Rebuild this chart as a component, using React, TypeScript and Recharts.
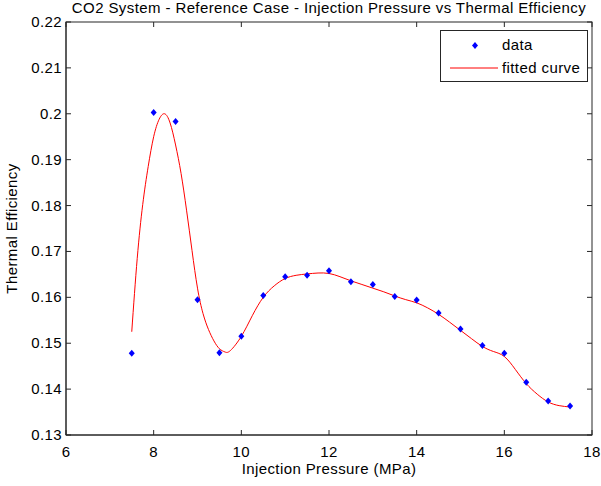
import { ComposedChart, Legend, Line, Scatter, XAxis, YAxis } from "recharts";

// measured points
const pressure = [7.5, 8, 8.5, 9, 9.5, 10, 10.5, 11, 11.5, 12, 12.5, 13, 13.5, 14, 14.5, 15, 15.5, 16, 16.5, 17, 17.5];
const efficiency = [
  0.1478, 0.2003, 0.1983, 0.1595, 0.1479, 0.1515, 0.1604, 0.1645, 0.1648, 0.1658, 0.1634,
  0.1628, 0.1602, 0.1594, 0.1566, 0.1531, 0.1495, 0.1478, 0.1415, 0.1374, 0.1363,
];

// fitted curve
const curvePressure = [
  7.5, 7.625, 7.75, 7.875, 8, 8.125, 8.25, 8.375, 8.5, 8.625, 8.75, 8.875, 9, 9.125, 9.25, 9.375,
  9.5, 9.625, 9.75, 10, 10.25, 10.5, 10.75, 11, 11.25, 11.5, 11.75, 12, 12.25, 12.5, 12.75, 13, 13.25,
  13.5, 13.75, 14, 14.25, 14.5, 14.75, 15, 15.25, 15.5, 15.75, 16, 16.25, 16.5, 16.75, 17, 17.25, 17.5,
];
const curveEfficiency = [
  0.1525, 0.1685, 0.1802, 0.1885, 0.195, 0.1988, 0.2, 0.198, 0.1932, 0.187, 0.179, 0.1702,
  0.162, 0.1565, 0.153, 0.1505, 0.1488, 0.1481, 0.1484, 0.1515, 0.156, 0.16, 0.1625, 0.1641,
  0.1648, 0.1651, 0.1653, 0.1652, 0.1645, 0.1636, 0.1628, 0.162, 0.1612, 0.1603, 0.1595, 0.1588,
  0.1577, 0.1563, 0.1546, 0.1528, 0.151, 0.1493, 0.1482, 0.1471, 0.1443, 0.1412, 0.1389, 0.1372,
  0.1364, 0.1361,
];

const xTicks = [6, 8, 10, 12, 14, 16, 18];
const yTicks = [0.13, 0.14, 0.15, 0.16, 0.17, 0.18, 0.19, 0.2, 0.21, 0.22];

const points = pressure.map((p, i) => ({ x: p, y: efficiency[i] }));
const curve = curvePressure.map((p, i) => ({ x: p, y: curveEfficiency[i] }));

const W = 601;
const H = 486;
const M = { top: 22, right: 9, bottom: 0, left: 0 };
const Y_AXIS_W = 66;
const X_AXIS_H = 51;
const PLOT_X = M.left + Y_AXIS_W;
const PLOT_Y = M.top;
const PLOT_W = W - M.left - M.right - Y_AXIS_W;
const PLOT_H = H - M.top - M.bottom - X_AXIS_H;
const X_MIN = xTicks[0];
const X_MAX = xTicks[xTicks.length - 1];
const Y_MIN = yTicks[0];
const Y_MAX = yTicks[yTicks.length - 1];

const FONT = "'Liberation Sans', Arial, sans-serif";
const INK = "#262626";
const TXT = { fontSize: 15, fontFamily: FONT, fill: "#000", letterSpacing: 0.4 };

const fmt = (v: number) => String(Number(v.toFixed(2)));

const BottomTick = ({ x, y, payload }: any) => (
  <text x={x} y={y + 22} textAnchor="middle" {...TXT}>
    {payload.value}
  </text>
);
const LeftTick = ({ x, y, payload }: any) => (
  <text x={x - 4} y={y + 5} textAnchor="end" {...TXT}>
    {fmt(payload.value)}
  </text>
);

// MATLAB-style box with inward ticks on all four sides
const Frame = () => {
  const px = (t: number) => PLOT_X + ((t - X_MIN) / (X_MAX - X_MIN)) * PLOT_W;
  const py = (t: number) => PLOT_Y + PLOT_H - ((t - Y_MIN) / (Y_MAX - Y_MIN)) * PLOT_H;
  const bottom = PLOT_Y + PLOT_H;
  const right = PLOT_X + PLOT_W;
  return (
    <svg
      width={W}
      height={H}
      style={{ position: "absolute", left: 0, top: 0, pointerEvents: "none" }}
    >
      <rect x={PLOT_X} y={PLOT_Y} width={PLOT_W} height={PLOT_H} fill="none" stroke={INK} />
      {xTicks.map((t) => (
        <g key={`x${t}`}>
          <line x1={px(t)} x2={px(t)} y1={bottom} y2={bottom - 5} stroke={INK} />
          <line x1={px(t)} x2={px(t)} y1={PLOT_Y} y2={PLOT_Y + 5} stroke={INK} />
        </g>
      ))}
      {yTicks.map((t) => (
        <g key={`y${t}`}>
          <line x1={PLOT_X} x2={PLOT_X + 5} y1={py(t)} y2={py(t)} stroke={INK} />
          <line x1={right} x2={right - 5} y1={py(t)} y2={py(t)} stroke={INK} />
        </g>
      ))}
    </svg>
  );
};

const Diamond = ({ cx, cy }: any) => (
  <path d={`M${cx} ${cy - 3.5} L${cx + 3} ${cy} L${cx} ${cy + 3.5} L${cx - 3} ${cy} Z`} fill="#0000ff" />
);

const LegendBox = () => (
  <div
    style={{
      width: 148,
      height: 52,
      border: `1px solid ${INK}`,
      background: "#fff",
      boxSizing: "border-box",
    }}
  >
    <svg width={146} height={50} style={{ display: "block" }}>
      <path d="M34 11 L37 14.5 L34 18 L31 14.5 Z" fill="#0000ff" />
      <text x={61} y={19} {...TXT}>data</text>
      <line x1={9} x2={57} y1={37} y2={37} stroke="#ff0000" />
      <text x={61} y={42} {...TXT}>fitted curve</text>
    </svg>
  </div>
);

export default function App() {
  return (
    <div style={{ position: "absolute", left: 0, top: 0, width: W, height: H, background: "#fff" }}>
      <div
        style={{
          position: "absolute",
          left: 0,
          width: 658,
          top: -1,
          textAlign: "center",
          fontFamily: FONT,
          fontSize: 15,
          letterSpacing: 0.4,
          lineHeight: "17px",
          color: "#000",
          whiteSpace: "nowrap",
        }}
      >
        CO2 System - Reference Case - Injection Pressure vs Thermal Efficiency
      </div>
      <ComposedChart width={W} height={H} margin={M}>
        <XAxis
          dataKey="x"
          type="number"
          domain={[X_MIN, X_MAX]}
          ticks={xTicks}
          interval={0}
          height={X_AXIS_H}
          tickLine={false}
          tickSize={0}
          tickMargin={0}
          tick={BottomTick}
          stroke={INK}
          allowDataOverflow
          label={{
            value: "Injection Pressure (MPa)",
            position: "insideBottom",
            offset: 12,
            ...TXT,
          }}
        />
        <YAxis
          type="number"
          domain={[Y_MIN, Y_MAX]}
          ticks={yTicks}
          interval={0}
          width={Y_AXIS_W}
          tickLine={false}
          tickSize={0}
          tickMargin={0}
          tick={LeftTick}
          stroke={INK}
          allowDataOverflow
          label={{
            value: "Thermal Efficiency",
            angle: -90,
            position: "insideLeft",
            offset: 12,
            ...TXT,
            style: { textAnchor: "middle" },
          }}
        />
        <Legend
          layout="vertical"
          align="center"
          verticalAlign="middle"
          content={LegendBox}
          wrapperStyle={{ position: "absolute", left: 440, top: 30, width: 148, height: 52 }}
        />
        <Line
          data={curve}
          dataKey="y"
          type="natural"
          stroke="#ff0000"
          strokeWidth={1}
          dot={false}
          activeDot={false}
          isAnimationActive={false}
        />
        <Scatter
          data={points}
          dataKey="y"
          fill="#0000ff"
          shape={Diamond}
          isAnimationActive={false}
        />
      </ComposedChart>
      <Frame />
    </div>
  );
}
